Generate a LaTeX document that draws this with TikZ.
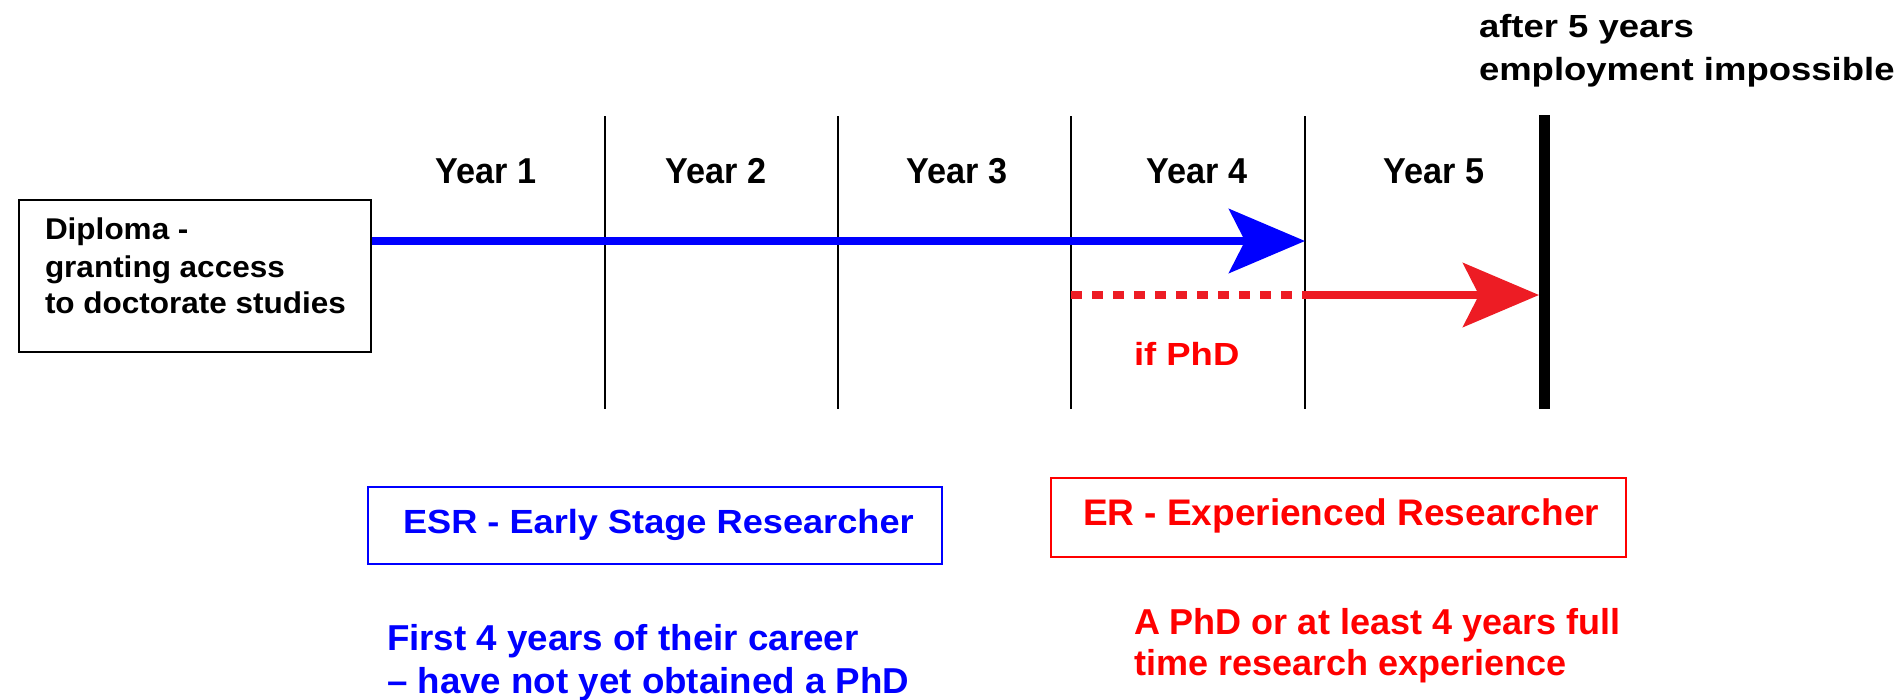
\documentclass[tikz,border=0pt]{standalone}
\usepackage{fontspec}
\setmainfont{Liberation Sans}
\usepackage{graphicx}
\usetikzlibrary{arrows.meta}
\definecolor{pblue}{RGB}{0,0,255}
\definecolor{pred}{RGB}{255,0,0}
\definecolor{ared}{RGB}{237,28,36}
\newcommand{\fsz}[1]{\fontsize{#1pt}{#1pt}\selectfont\bfseries}
\newcommand{\sx}[2]{\scalebox{#1}[1]{#2}}
\tikzset{
  txt/.style={anchor=base west, inner sep=0pt, outer sep=0pt},
  ctxt/.style={anchor=base, inner sep=0pt, outer sep=0pt},
  yearline/.style={line width=2pt, black},
  endline/.style={line width=11pt, black},
  framebox/.style={draw, line width=2.2pt, inner sep=0pt, anchor=north west},
  bluearrow/.style={line width=7.5pt, pblue, -{Stealth[length=76pt,width=64pt,inset=16pt]}},
  redarrow/.style={line width=7.5pt, ared, -{Stealth[length=76pt,width=64pt,inset=16pt]}},
  reddash/.style={line width=7.5pt, ared, dash pattern=on 11pt off 10pt},
}
\begin{document}
\begin{tikzpicture}[x=1pt,y=-1pt]
\useasboundingbox (0,0) rectangle (1896,699);
% year separators
\coordinate (t1) at (605,116); \coordinate (b1) at (605,409);
\coordinate (t2) at (838,116); \coordinate (b2) at (838,409);
\coordinate (t3) at (1071,116); \coordinate (b3) at (1071,409);
\coordinate (t4) at (1305,116); \coordinate (b4) at (1305,409);
\coordinate (t5) at (1544,115); \coordinate (b5) at (1544,409);
\draw[yearline] (t1) -- (b1);
\draw[yearline] (t2) -- (b2);
\draw[yearline] (t3) -- (b3);
\draw[yearline] (t4) -- (b4);
\draw[endline] (t5) -- (b5);
% year labels
\node[ctxt, font=\fsz{36}] (y1) at (486,183) {\sx{0.95}{Year 1}};
\node[ctxt, font=\fsz{36}] (y2) at (716,183) {\sx{0.95}{Year 2}};
\node[ctxt, font=\fsz{36}] (y3) at (957,183) {\sx{0.95}{Year 3}};
\node[ctxt, font=\fsz{36}] (y4) at (1197,183) {\sx{0.95}{Year 4}};
\node[ctxt, font=\fsz{36}] (y5) at (1434,183) {\sx{0.95}{Year 5}};
% top right note
\node[txt, font=\fsz{32}] (after1) at (1479,37) {\sx{1.14}{after 5 years}};
\node[txt, font=\fsz{32}] (after2) at (1479,80) {\sx{1.14}{employment impossible}};
% diploma box
\node[framebox, minimum width=352pt, minimum height=152pt] (dip) at (18,199) {};
\node[txt, font=\fsz{30}] (d1) at (45,239) {\sx{1.05}{Diploma -}};
\node[txt, font=\fsz{30}] (d2) at (45,277) {\sx{1.05}{granting access}};
\node[txt, font=\fsz{30}] (d3) at (45,313) {\sx{1.05}{to doctorate studies}};
% arrows
\coordinate (bend) at (1305,241);
\coordinate (rstart) at (1071,295);
\coordinate (rmid) at (1305,295);
\coordinate (rend) at (1539,295);
\draw[bluearrow] (dip.east |- bend) -- (bend);
\draw[reddash] (rstart) -- (rmid);
\draw[redarrow] (rmid) -- (rend);
\node[txt, font=\fsz{32}, text=pred] (ifphd) at (1134,365) {\sx{1.14}{if PhD}};
% ESR
\node[framebox, draw=pblue, line width=2pt, minimum width=574pt, minimum height=77pt] (esr) at (367,486) {};
\node[txt, font=\fsz{33.5}, text=pblue] (esrt) at (403,533) {\sx{1.08}{ESR - Early Stage Researcher}};
\node[txt, font=\fsz{36}, text=pblue] (esr1) at (387,650) {\sx{1.02}{First 4 years of their career}};
\node[txt, font=\fsz{36}, text=pblue] (esr2) at (387,693) {\sx{1.02}{– have not yet obtained a PhD}};
% ER
\node[framebox, draw=pred, line width=2pt, minimum width=575pt, minimum height=79pt] (er) at (1050,477) {};
\node[txt, font=\fsz{37}, text=pred] (ert) at (1083,525) {ER - Experienced Researcher};
\node[txt, font=\fsz{36}, text=pred] (er1) at (1134,634) {A PhD or at least 4 years full};
\node[txt, font=\fsz{36}, text=pred] (er2) at (1134,675) {time research experience};
\end{tikzpicture}
\end{document}
